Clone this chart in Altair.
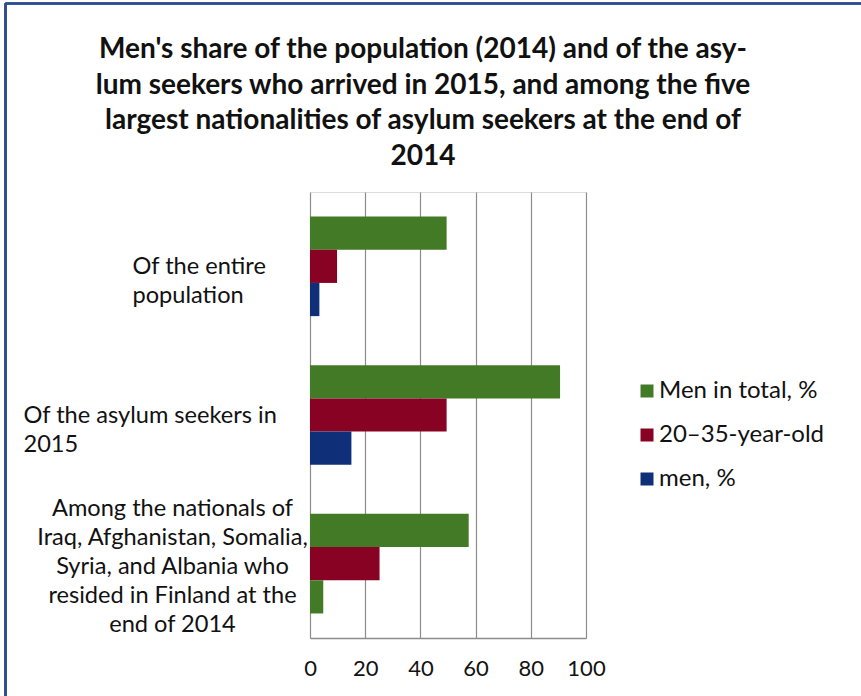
import altair as alt
import pandas as pd

categories = [
    "Of the entire\npopulation",
    "Of the asylum seekers in\n2015",
    "Among the nationals of\nIraq, Afghanistan, Somalia,\nSyria, and Albania who\nresided in Finland at the\nend of 2014",
]
series = ["Men in total, %", "20–35-year-old", "men, %"]
men_total = [49.5, 90.6, 57.5]
age_20_35 = [9.8, 49.5, 25.2]
men_pct = [3.4, 15.0, 4.8]
# colour key used for each "men, %" bar (the last one is drawn green in the original)
men_pct_colour = ["men, %", "men, %", "Men in total, %"]
colours = ["#437A26", "#880323", "#0F2F78"]
x_ticks = [0, 20, 40, 60, 80, 100]

rows = []
for i, c in enumerate(categories):
    rows.append({"category": c, "series": series[0], "value": men_total[i], "key": series[0]})
    rows.append({"category": c, "series": series[1], "value": age_20_35[i], "key": series[1]})
    rows.append({"category": c, "series": series[2], "value": men_pct[i], "key": men_pct_colour[i]})
df = pd.DataFrame(rows)

FONT = "Lato"
t_among = "indexof(datum.value, 'Among') == 0"
t_entire = "indexof(datum.value, 'Of the entire') == 0"

bars = alt.Chart(df).mark_bar().encode(
    y=alt.Y(
        "category:N",
        sort=categories,
        title=None,
        scale=alt.Scale(paddingInner=0.33, paddingOuter=0.165),
        axis=alt.Axis(
            domain=False,
            ticks=False,
            tickSize=0,
            grid=False,
            labelFont=FONT,
            labelFontSize=23.6,
            labelColor="#111111",
            labelLineHeight=29,
            labelLimit=400,
            labelExpr="split(datum.label, '\\n')",
            labelAlign={"condition": {"test": t_among, "value": "center"}, "value": "left"},
            labelPadding={
                "condition": [
                    {"test": t_among, "value": 138},
                    {"test": t_entire, "value": 178},
                ],
                "value": 287,
            },
            labelOffset={"condition": {"test": t_among, "value": -55}, "value": 1},
        ),
    ),
    yOffset=alt.YOffset("series:N", sort=series, scale=alt.Scale(paddingInner=0, paddingOuter=0)),
    x=alt.X(
        "value:Q",
        title=None,
        scale=alt.Scale(domain=[0, 100]),
        axis=alt.Axis(
            values=x_ticks,
            grid=True,
            gridColor="#8C8C8C",
            gridWidth=1.2,
            domain=True,
            domainColor="#8C8C8C",
            domainWidth=1.5,
            ticks=False,
            tickSize=0,
            labelFont=FONT,
            labelFontSize=22,
            labelColor="#111111",
            labelPadding=20,
            labelFlush=False,
        ),
    ),
    color=alt.Color(
        "key:N",
        scale=alt.Scale(domain=series, range=colours),
        legend=alt.Legend(
            title=None,
            orient="none",
            legendX=325,
            legendY=187,
            symbolType="square",
            symbolSize=169,
            symbolStrokeWidth=0,
            labelFont=FONT,
            labelFontSize=24,
            labelColor="#111111",
            labelOffset=0,
            labelLimit=400,
            rowPadding=20,
            padding=0,
        ),
    ),
)

border_left = alt.Chart(df).mark_rule(color="#2E4C8E", strokeWidth=1.6).encode(
    x=alt.value(-304.5), y=alt.value(-188.5), y2=alt.value(520)
)
border_top = alt.Chart(df).mark_rule(color="#2E4C8E", strokeWidth=1.6).encode(
    x=alt.value(-304.5), x2=alt.value(600), y=alt.value(-188.5)
)

chart = (
    alt.layer(bars, border_left, border_top)
    .properties(
        width=276,
        height=446,
        autosize=alt.AutoSizeParams(type="none"),
        padding={"left": 310, "top": 192, "right": 275, "bottom": 58},
        title=alt.TitleParams(
            text=[
                "Men's share of the population (2014) and of the asy-",
                "lum seekers who arrived in 2015, and among the five",
                "largest nationalities of asylum seekers at the end of",
                "2014",
            ],
            font=FONT,
            fontSize=28,
            fontWeight="bold",
            color="#111111",
            lineHeight=35.5,
            anchor="middle",
            frame="group",
            dx=-25,
            offset=-168,
        ),
    )
    .configure_view(stroke=None)
    .configure(background="white")
)

chart.save("out.html", embed_options={"renderer": "svg", "actions": False})
